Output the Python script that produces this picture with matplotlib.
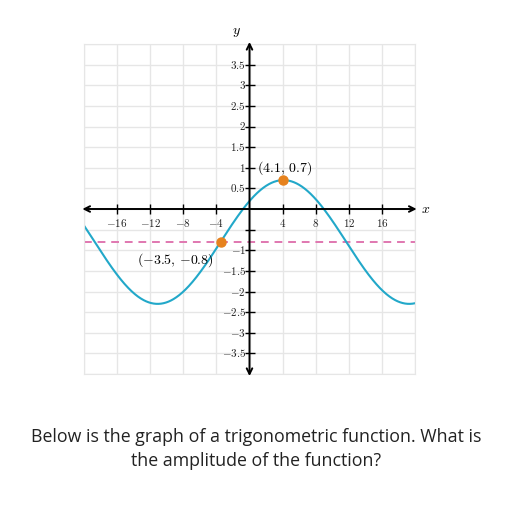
import numpy as np
import matplotlib
matplotlib.use("Agg")
import matplotlib.pyplot as plt

plt.rcParams['mathtext.fontset'] = 'cm'

# Data
max_point = (4.1, 0.7)
mid_point = (-3.5, -0.8)
x_ticks = [-16, -12, -8, -4, 4, 8, 12, 16]
y_ticks = [3.5, 3, 2.5, 2, 1.5, 1, 0.5, -1, -1.5, -2, -2.5, -3, -3.5]
y_tick_marks = [3.5, 3, 2.5, 2, 1.5, 1, 0.5, -0.5, -1, -1.5, -2, -2.5, -3, -3.5]
x_grid = [-20, -16, -12, -8, -4, 0, 4, 8, 12, 16, 20]
y_grid = [-4, -3.5, -3, -2.5, -2, -1.5, -1, -0.5, 0, 0.5, 1, 1.5, 2, 2.5, 3, 3.5, 4]

# sinusoid through the two labeled points (max and midline crossing)
midline = mid_point[1]
amplitude = max_point[1] - midline
period = 4 * (max_point[0] - mid_point[0])

fig = plt.figure(figsize=(5.12, 5.12), dpi=100)
ax = fig.add_axes([84/512, 1 - 374/512, 331/512, 330/512])
ax.set_xlim(-20, 20)
ax.set_ylim(-4, 4)
for s in ax.spines.values():
    s.set_color('#e6e6e6')
ax.set_xticks([]); ax.set_yticks([])
for g in x_grid:
    ax.axvline(g, color='#e6e6e6', lw=1, zorder=0)
for g in y_grid:
    ax.axhline(g, color='#e6e6e6', lw=1, zorder=0)

# axes with arrows
ax.annotate('', xy=(20.2, 0), xytext=(-20.2, 0),
            arrowprops=dict(arrowstyle='<->', lw=1.4, color='black',
                            mutation_scale=10, shrinkA=0, shrinkB=0),
            annotation_clip=False, zorder=3)
ax.annotate('', xy=(0, 4.05), xytext=(0, -4.05),
            arrowprops=dict(arrowstyle='<->', lw=1.4, color='black',
                            mutation_scale=10, shrinkA=0, shrinkB=0),
            annotation_clip=False, zorder=3)
ax.plot([t for t in x_grid if t not in (-20, 0, 20)], [0]*8, ls='none',
        marker='|', ms=7, mew=1, color='black', zorder=3)
ax.plot([0]*len(y_tick_marks), y_tick_marks, ls='none',
        marker='_', ms=7, mew=1, color='black', zorder=3)

for t in x_ticks:
    ax.text(t, -0.2, r'$\mathbf{%s}$' % ('{-}' + str(abs(t)) if t < 0 else str(t)),
            ha='center', va='top', fontsize=8, color='#222222', zorder=4)
for t in y_ticks:
    lab = '%g' % t
    lab = '{-}' + lab[1:] if lab.startswith('-') else lab
    ax.text(-0.45, t, r'$\mathbf{%s}$' % lab, ha='right', va='center',
            fontsize=8, color='#222222', zorder=4)

ax.text(-1.6, 4.3, r'$y$', ha='center', va='center', fontsize=10, clip_on=False)
ax.text(21.3, 0, r'$x$', ha='center', va='center', fontsize=10, clip_on=False)

# curve
xs = np.linspace(-20, 20, 800)
ys = midline + amplitude * np.sin(2 * np.pi * (xs - mid_point[0]) / period)
ax.plot(xs, ys, color='#22a8c9', lw=1.5, zorder=2)
ax.axhline(midline, color='#e077b0', lw=1.4, ls=(0, (4, 3)), zorder=1)
ax.plot([max_point[0], mid_point[0]], [max_point[1], mid_point[1]], 'o',
        color='#e6821e', ms=6.5, zorder=5)
ax.text(4.2, 1.0, r'$(4.1,\,0.7)$', ha='center',
        va='center', fontsize=10, zorder=6)
ax.text(-4.3, -1.24, r'$({-}3.5,\,{-}0.8)$', ha='right',
        va='center', fontsize=10, zorder=6)

fig.text(0.5, 1 - 437/512, 'Below is the graph of a trigonometric function. What is',
         ha='center', va='center', fontsize=12.8, family='Open Sans', color='#222222')
fig.text(0.5, 1 - 461/512, 'the amplitude of the function?',
         ha='center', va='center', fontsize=12.8, family='Open Sans', color='#222222')

fig.savefig('out.png', dpi=100)
